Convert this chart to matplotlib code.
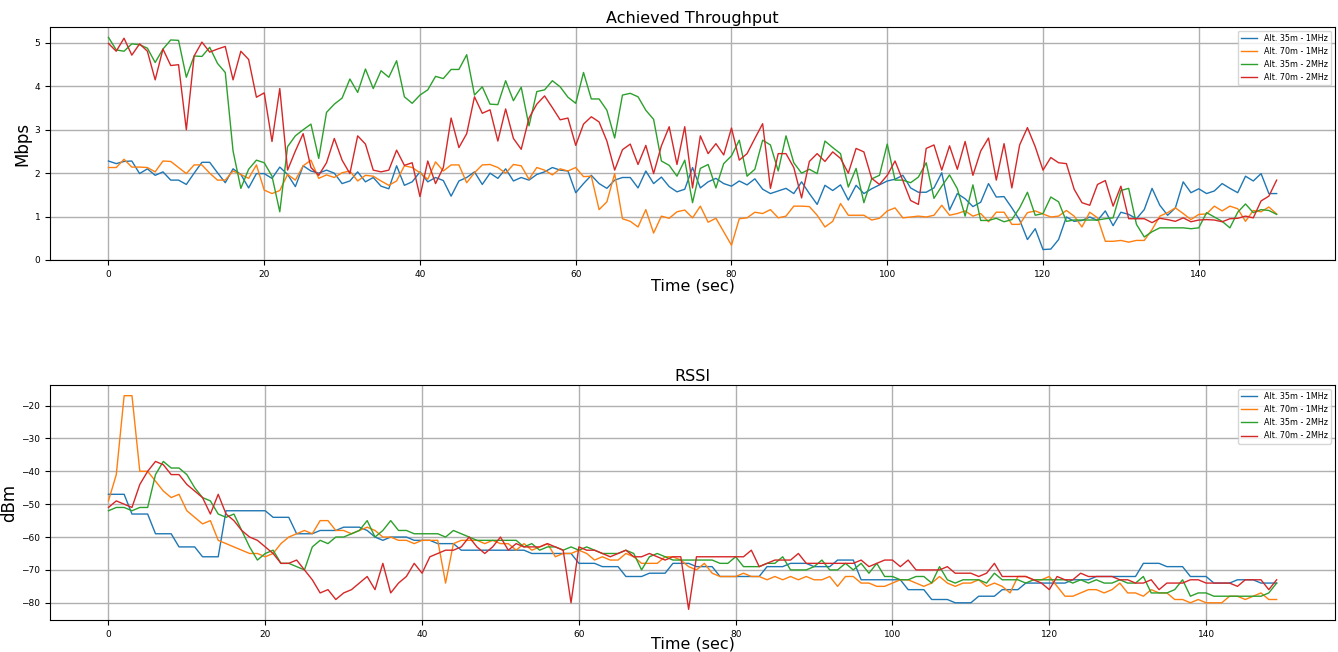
import matplotlib
matplotlib.use("Agg")
import matplotlib.pyplot as plt
import numpy as np

labels = ["Alt. 35m - 1MHz", "Alt. 70m - 1MHz", "Alt. 35m - 2MHz", "Alt. 70m - 2MHz"]

thr_35_1 = [2.28, 2.22, 2.27, 2.28, 1.99, 2.10, 1.95, 2.03, 1.84, 1.84, 1.74, 2.00, 2.25, 2.25, 2.01, 1.78, 2.10, 1.97, 1.66, 1.99, 1.99, 1.88, 2.14, 1.97, 1.69, 2.17,
            2.05, 2.00, 2.07, 2.00, 1.76, 1.82, 2.03, 1.80, 1.90, 1.70, 1.64, 2.17, 1.72, 1.80, 2.03, 1.80, 1.90, 1.83, 1.47, 1.82, 1.90, 2.03, 1.74, 2.00, 1.88,
            2.10, 1.82, 1.90, 1.84, 1.97, 2.03, 2.13, 2.07, 2.05, 1.55, 1.76, 1.95, 1.76, 1.65, 1.84, 1.90, 1.90, 1.66, 2.05, 1.76, 1.91, 1.69, 1.57, 1.63, 2.13, 1.66,
            1.80, 1.88, 1.76, 1.70, 1.82, 1.73, 1.87, 1.63, 1.53, 1.59, 1.65, 1.53, 1.80, 1.53, 1.28, 1.72, 1.60, 1.73, 1.38, 1.72, 1.53, 1.64, 1.73, 1.82, 1.86, 1.95,
            1.66, 1.56, 1.56, 1.66, 2.01, 1.15, 1.53, 1.41, 1.23, 1.33, 1.76, 1.45, 1.46, 1.20, 0.92, 0.47, 0.72, 0.24, 0.25, 0.47, 0.99, 0.89, 0.91, 0.99, 0.91,
            1.13, 0.79, 1.10, 1.05, 0.95, 1.16, 1.65, 1.26, 1.03, 1.20, 1.80, 1.55, 1.64, 1.53, 1.59, 1.76, 1.65, 1.55, 1.93, 1.82, 1.99, 1.53, 1.53]
thr_70_1 = [2.13, 2.13, 2.32, 2.14, 2.14, 2.13, 2.03, 2.28, 2.27, 2.13, 1.99, 2.19, 2.19, 2.00, 1.84, 1.84, 2.05, 1.97, 1.88, 2.19, 1.61, 1.53, 1.60, 1.97, 1.84, 2.17,
            2.30, 1.88, 1.96, 1.90, 2.01, 2.05, 1.82, 1.95, 1.93, 1.82, 1.72, 1.82, 2.17, 2.13, 2.01, 1.86, 2.26, 2.05, 2.19, 2.19, 1.78, 2.01, 2.19, 2.20, 2.13,
            2.00, 2.20, 2.17, 1.86, 2.13, 2.07, 1.96, 2.10, 2.05, 2.13, 1.92, 1.93, 1.16, 1.34, 1.99, 0.95, 0.89, 0.76, 1.16, 0.62, 1.01, 0.96, 1.11, 1.15, 0.97, 1.24,
            0.87, 0.96, 0.65, 0.34, 0.95, 0.97, 1.10, 1.07, 1.16, 0.97, 1.01, 1.24, 1.24, 1.23, 1.03, 0.76, 0.89, 1.30, 1.03, 1.03, 1.03, 0.92, 0.96, 1.13, 1.20, 0.97,
            0.99, 1.01, 0.99, 1.03, 1.26, 1.03, 1.07, 1.13, 1.01, 1.07, 0.88, 1.10, 1.10, 0.82, 0.82, 1.09, 1.13, 1.06, 0.99, 1.01, 1.14, 1.01, 0.76, 1.10, 0.97,
            0.43, 0.43, 0.45, 0.41, 0.45, 0.45, 0.70, 1.01, 1.09, 1.20, 1.07, 0.93, 1.05, 1.06, 1.24, 1.13, 1.24, 1.18, 0.89, 1.14, 1.11, 1.22, 1.06]
thr_35_2 = [5.13, 4.84, 4.81, 4.98, 4.96, 4.88, 4.55, 4.86, 5.07, 5.06, 4.21, 4.70, 4.69, 4.90, 4.53, 4.32, 2.51, 1.65, 2.09, 2.30, 2.24, 1.93, 1.11, 2.61, 2.86, 3.00,
            3.13, 2.34, 3.40, 3.59, 3.73, 4.17, 3.86, 4.40, 3.95, 4.36, 4.21, 4.59, 3.76, 3.61, 3.80, 3.92, 4.23, 4.18, 4.39, 4.39, 4.73, 3.80, 3.99, 3.59, 3.58,
            4.13, 3.67, 3.98, 3.09, 3.88, 3.92, 4.13, 3.99, 3.75, 3.61, 4.32, 3.71, 3.71, 3.45, 2.81, 3.80, 3.84, 3.76, 3.45, 3.24, 2.28, 2.18, 1.93, 2.30, 1.32, 2.11,
            2.20, 1.66, 2.22, 2.40, 2.76, 1.93, 2.09, 2.76, 2.65, 2.05, 2.86, 2.24, 2.00, 2.09, 1.99, 2.74, 2.59, 2.45, 1.68, 2.11, 1.32, 1.87, 1.95, 2.67, 1.84, 1.84,
            1.78, 1.91, 2.24, 1.42, 1.70, 1.96, 1.64, 1.01, 1.73, 0.91, 0.91, 0.96, 0.88, 0.93, 1.20, 1.56, 1.03, 1.07, 1.45, 1.34, 0.89, 0.92, 0.92, 0.92, 0.92,
            0.95, 0.97, 1.60, 1.65, 0.82, 0.53, 0.65, 0.74, 0.74, 0.74, 0.74, 0.72, 0.74, 1.09, 0.99, 0.89, 0.74, 1.10, 1.29, 1.09, 1.16, 1.14, 1.05]
thr_70_2 = [4.99, 4.81, 5.11, 4.72, 4.98, 4.81, 4.15, 4.86, 4.48, 4.50, 3.00, 4.70, 5.02, 4.79, 4.86, 4.92, 4.15, 4.81, 4.62, 3.75, 3.85, 2.73, 3.95, 2.07, 2.51, 2.91,
            2.13, 1.95, 2.24, 2.80, 2.30, 1.99, 2.86, 2.67, 2.07, 2.03, 2.07, 2.53, 2.18, 2.24, 1.46, 2.28, 1.76, 2.13, 3.27, 2.59, 2.91, 3.76, 3.38, 3.46, 2.74,
            3.48, 2.80, 2.55, 3.27, 3.59, 3.78, 3.51, 3.23, 3.27, 2.64, 3.13, 3.30, 3.18, 2.74, 2.07, 2.54, 2.67, 2.20, 2.64, 1.99, 2.63, 3.07, 2.20, 3.07, 1.66, 2.86,
            2.45, 2.68, 2.42, 3.04, 2.30, 2.45, 2.80, 3.14, 1.65, 2.45, 2.45, 2.13, 1.43, 2.27, 2.45, 2.27, 2.49, 2.34, 2.00, 2.57, 2.49, 1.88, 1.74, 1.95, 2.28, 1.83,
            1.37, 1.28, 2.57, 2.65, 2.07, 2.63, 2.09, 2.73, 1.95, 2.51, 2.81, 1.84, 2.68, 1.66, 2.65, 3.05, 2.61, 2.07, 2.36, 2.24, 2.22, 1.63, 1.32, 1.26, 1.74,
            1.83, 1.24, 1.70, 0.95, 0.95, 0.95, 0.86, 0.96, 0.93, 0.89, 0.97, 0.88, 0.92, 0.93, 0.92, 0.88, 0.95, 0.96, 1.01, 0.97, 1.36, 1.47, 1.84]

rssi_35_1 = [-47, -47, -47, -53, -53, -53, -59, -59, -59, -63, -63, -63, -66, -66, -66, -52, -52, -52, -52, -52, -52, -54, -54, -54, -59, -59,
             -59, -58, -58, -58, -57, -57, -57, -58, -60, -61, -60, -60, -60, -61, -61, -61, -62, -62, -62, -64, -64, -64, -64, -64, -64,
             -64, -64, -64, -65, -65, -65, -65, -65, -65, -68, -68, -68, -69, -69, -69, -72, -72, -72, -71, -71, -71, -68, -68, -68, -69, -69,
             -69, -72, -72, -72, -72, -72, -72, -69, -69, -69, -68, -68, -68, -69, -69, -69, -67, -67, -67, -73, -73, -73, -73, -73, -73,
             -76, -76, -76, -79, -79, -79, -80, -80, -80, -78, -78, -78, -76, -76, -76, -74, -74, -74, -74, -74, -74, -73, -73, -73, -72, -72,
             -72, -72, -72, -72, -68, -68, -68, -69, -69, -69, -72, -72, -72, -74, -74, -74, -73, -73, -73, -74, -74, -74]
rssi_70_1 = [-49, -41, -17, -17, -40, -40, -43, -46, -48, -47, -52, -54, -56, -55, -61, -62, -63, -64, -65, -65, -66, -65, -62, -60, -59, -58,
             -59, -55, -55, -58, -58, -59, -58, -57, -58, -60, -60, -61, -61, -62, -61, -61, -61, -74, -62, -61, -61, -61, -62, -61, -62,
             -62, -64, -62, -64, -63, -62, -66, -65, -65, -64, -65, -67, -66, -67, -67, -65, -66, -68, -68, -68, -66, -66, -67, -69, -70, -68,
             -71, -72, -72, -72, -71, -72, -72, -73, -72, -73, -72, -73, -72, -73, -73, -72, -75, -72, -72, -74, -74, -75, -75, -74, -73,
             -73, -74, -75, -74, -72, -74, -75, -74, -74, -73, -75, -74, -75, -77, -72, -72, -73, -73, -72, -75, -78, -78, -77, -76, -76, -77,
             -76, -74, -77, -77, -78, -76, -77, -77, -79, -79, -80, -79, -80, -80, -80, -78, -78, -79, -78, -77, -79, -79]
rssi_35_2 = [-52, -51, -51, -52, -51, -51, -41, -37, -39, -39, -41, -45, -48, -49, -53, -54, -53, -58, -63, -67, -65, -64, -68, -68, -69, -70,
             -63, -61, -62, -60, -60, -59, -58, -55, -60, -58, -55, -58, -58, -59, -59, -59, -59, -60, -58, -59, -60, -61, -61, -61, -61,
             -61, -61, -63, -62, -64, -63, -63, -64, -63, -64, -63, -64, -65, -65, -65, -64, -65, -70, -66, -65, -66, -67, -67, -67, -67, -67,
             -67, -68, -68, -66, -69, -69, -69, -68, -68, -66, -70, -70, -70, -69, -67, -70, -70, -68, -70, -68, -71, -68, -72, -72, -73,
             -73, -72, -72, -74, -69, -73, -74, -73, -73, -73, -74, -71, -73, -73, -73, -74, -73, -73, -73, -73, -73, -74, -73, -74, -73, -74,
             -74, -73, -74, -74, -72, -77, -77, -77, -76, -73, -78, -77, -77, -78, -78, -78, -78, -78, -78, -78, -77, -74]
rssi_70_2 = [-51, -49, -50, -51, -44, -40, -37, -38, -41, -41, -44, -46, -48, -53, -47, -53, -55, -58, -60, -61, -63, -65, -68, -68, -67, -70,
             -73, -77, -76, -79, -77, -76, -74, -72, -76, -68, -77, -74, -72, -68, -71, -66, -65, -64, -64, -63, -60, -63, -65, -63, -60,
             -64, -62, -63, -63, -63, -62, -63, -64, -80, -63, -64, -64, -65, -66, -65, -64, -66, -66, -65, -66, -67, -66, -66, -82, -66, -66,
             -66, -66, -66, -66, -66, -64, -69, -68, -67, -67, -67, -65, -68, -68, -68, -68, -68, -68, -68, -67, -69, -68, -67, -67, -69,
             -67, -70, -70, -70, -70, -69, -71, -71, -71, -72, -71, -68, -72, -72, -72, -72, -73, -74, -76, -72, -73, -73, -71, -72, -72, -72,
             -72, -73, -73, -74, -74, -73, -76, -74, -74, -74, -73, -73, -74, -74, -74, -74, -75, -73, -73, -73, -76, -73]

thr_series = [thr_35_1, thr_70_1, thr_35_2, thr_70_2]
rssi_series = [rssi_35_1, rssi_70_1, rssi_35_2, rssi_70_2]
colors = ["#1f77b4", "#ff7f0e", "#2ca02c", "#d62728"]

fig = plt.figure(figsize=(13.38, 6.52), dpi=100)
ax1 = fig.add_axes([0.0374, 0.601, 0.9604, 0.358])
ax2 = fig.add_axes([0.0374, 0.049, 0.9604, 0.3605])

for s, c, l in zip(thr_series, colors, labels):
    ax1.plot(np.arange(len(s)), s, color=c, label=l, linewidth=1.0)
for s, c, l in zip(rssi_series, colors, labels):
    ax2.plot(np.arange(len(s)), s, color=c, label=l, linewidth=1.0)

ax1.set_title("Achieved Throughput", fontsize=11.5, pad=3)
ax1.set_ylabel("Mbps", fontsize=12, labelpad=2)
ax1.set_xlabel("Time (sec)", fontsize=11.5, labelpad=0)
ax2.set_title("RSSI", fontsize=11.5, pad=3)
ax2.set_ylabel("dBm", fontsize=12, labelpad=2)
ax2.set_xlabel("Time (sec)", fontsize=11.5, labelpad=-1.5)

for ax in (ax1, ax2):
    ax.grid(True, color="#b0b0b0", linewidth=1.0)
    ax.tick_params(labelsize=6.5)
    ax.legend(loc="upper right", fontsize=5.8)

fig.savefig("out.png", dpi=100)
